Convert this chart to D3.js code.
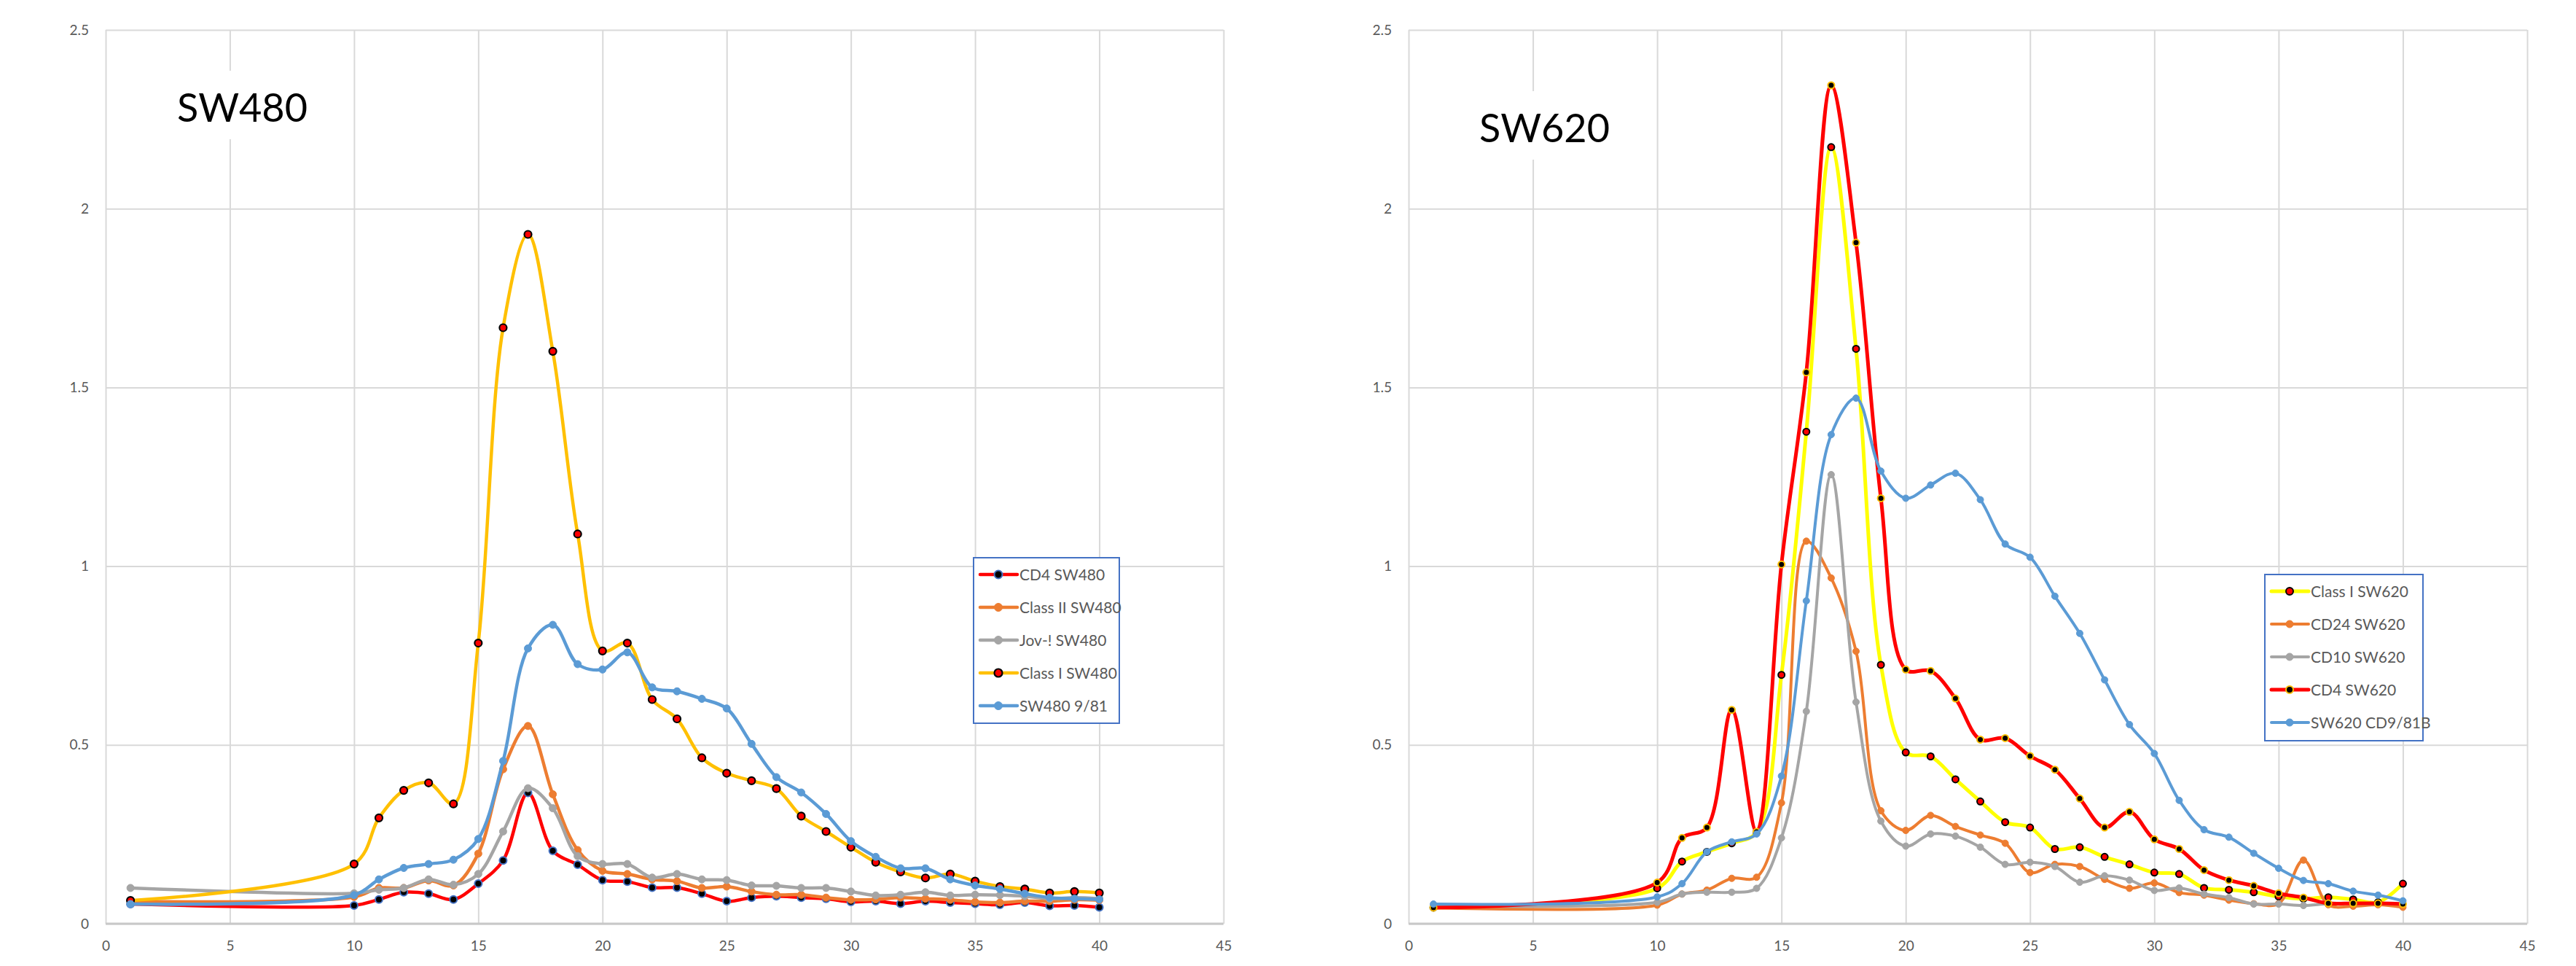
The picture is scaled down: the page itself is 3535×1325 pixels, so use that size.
<!DOCTYPE html>
<html>
<head>
<meta charset="utf-8">
<script src="https://cdn.jsdelivr.net/npm/d3@7"></script>
<style>
  body { margin: 0; background: #fff; }
  text { font-family: Lato, "Open Sans", sans-serif; }
</style>
</head>
<body>
<svg id="chart"></svg>
<script>
// fraction numbers (x) shared by every series
const fractions = [1, 10, 11, 12, 13, 14, 15, 16, 17, 18, 19, 20, 21, 22, 23, 24, 25,
  26, 27, 28, 29, 30, 31, 32, 33, 34, 35, 36, 37, 38, 39, 40];

const xTicks = [0, 5, 10, 15, 20, 25, 30, 35, 40, 45];
const yTicks = [0, 0.5, 1, 1.5, 2, 2.5];

// SW480 panel
const cd4SW480 = [0.055, 0.051, 0.068, 0.088, 0.084, 0.068, 0.112, 0.177, 0.366, 0.204, 0.165, 0.122, 0.118, 0.101, 0.101, 0.084, 0.063,
  0.073, 0.077, 0.073, 0.070, 0.061, 0.063, 0.056, 0.063, 0.059, 0.056, 0.053, 0.059, 0.050, 0.051, 0.046];
const classIISW480 = [0.062, 0.075, 0.100, 0.100, 0.121, 0.107, 0.196, 0.432, 0.553, 0.362, 0.206, 0.148, 0.139, 0.124, 0.119, 0.100, 0.104,
  0.090, 0.081, 0.081, 0.073, 0.067, 0.068, 0.073, 0.070, 0.067, 0.061, 0.059, 0.063, 0.063, 0.067, 0.066];
const jovSW480 = [0.100, 0.085, 0.095, 0.100, 0.124, 0.109, 0.139, 0.258, 0.379, 0.323, 0.189, 0.167, 0.167, 0.129, 0.139, 0.124, 0.122,
  0.107, 0.106, 0.100, 0.100, 0.090, 0.079, 0.081, 0.088, 0.079, 0.081, 0.080, 0.077, 0.070, 0.073, 0.070];
const classISW480 = [0.065, 0.167, 0.296, 0.373, 0.394, 0.335, 0.785, 1.667, 1.928, 1.601, 1.090, 0.763, 0.785, 0.627, 0.573, 0.464, 0.421,
  0.400, 0.378, 0.301, 0.258, 0.214, 0.172, 0.145, 0.128, 0.139, 0.119, 0.104, 0.097, 0.086, 0.090, 0.086];
const sw480_981 = [0.055, 0.080, 0.124, 0.156, 0.167, 0.179, 0.237, 0.455, 0.770, 0.836, 0.726, 0.711, 0.759, 0.661, 0.650, 0.629, 0.602,
  0.503, 0.410, 0.367, 0.307, 0.231, 0.187, 0.155, 0.155, 0.124, 0.107, 0.097, 0.084, 0.073, 0.070, 0.068];

// SW620 panel
const classISW620 = [0.045, 0.099, 0.174, 0.201, 0.225, 0.256, 0.696, 1.376, 2.172, 1.608, 0.724, 0.479, 0.468, 0.404, 0.342, 0.284, 0.269,
  0.209, 0.214, 0.187, 0.166, 0.143, 0.139, 0.100, 0.095, 0.088, 0.076, 0.070, 0.074, 0.068, 0.060, 0.112];
const cd24SW620 = [0.045, 0.052, 0.083, 0.094, 0.127, 0.130, 0.338, 1.070, 0.967, 0.762, 0.316, 0.261, 0.303, 0.272, 0.248, 0.225, 0.143,
  0.166, 0.160, 0.124, 0.099, 0.114, 0.087, 0.080, 0.066, 0.056, 0.056, 0.178, 0.053, 0.049, 0.053, 0.046];
const cd10SW620 = [0.050, 0.060, 0.083, 0.088, 0.088, 0.099, 0.240, 0.594, 1.256, 0.620, 0.287, 0.217, 0.251, 0.245, 0.214, 0.166, 0.172,
  0.160, 0.116, 0.134, 0.122, 0.093, 0.100, 0.083, 0.073, 0.055, 0.055, 0.051, 0.056, 0.057, 0.056, 0.055];
const cd4SW620 = [0.045, 0.115, 0.240, 0.269, 0.598, 0.257, 1.005, 1.542, 2.345, 1.905, 1.190, 0.711, 0.707, 0.630, 0.515, 0.519, 0.469,
  0.431, 0.350, 0.269, 0.313, 0.236, 0.209, 0.150, 0.122, 0.106, 0.085, 0.073, 0.057, 0.057, 0.057, 0.055];
const sw620_981B = [0.055, 0.075, 0.112, 0.201, 0.229, 0.251, 0.413, 0.903, 1.368, 1.470, 1.266, 1.190, 1.227, 1.260, 1.186, 1.062, 1.025,
  0.916, 0.812, 0.682, 0.557, 0.476, 0.345, 0.263, 0.242, 0.197, 0.155, 0.121, 0.112, 0.091, 0.080, 0.064];

const W = 3535, H = 1325;
const svg = d3.select('#chart').attr('width', W).attr('height', H);
svg.append('rect').attr('width', W).attr('height', H).attr('fill', '#fff');

const panels = [
  {
    title: 'SW480', left: 145, right: 1679, titleX: 243, titleY: 167,
    legend: { x: 1336, y: 765, w: 200, h: 227 },
    series: [
      { name: 'CD4 SW480', values: cd4SW480, color: '#FF0000', width: 4.5, fill: '#000', stroke: '#4472C4', r: 5, sw: 2 },
      { name: 'Class II SW480', values: classIISW480, color: '#ED7D31', width: 4.5, fill: '#ED7D31', stroke: '#ED7D31', r: 5, sw: 1 },
      { name: 'Jov-! SW480', values: jovSW480, color: '#A5A5A5', width: 4.5, fill: '#A5A5A5', stroke: '#A5A5A5', r: 5, sw: 1 },
      { name: 'Class I SW480', values: classISW480, color: '#FFC000', width: 4.5, fill: '#FF0000', stroke: '#000', r: 5, sw: 2.2 },
      { name: 'SW480 9/81', values: sw480_981, color: '#5B9BD5', width: 4.5, fill: '#5B9BD5', stroke: '#5B9BD5', r: 5, sw: 1 }
    ]
  },
  {
    title: 'SW620', left: 1933, right: 3468, titleX: 2030, titleY: 195,
    legend: { x: 3108, y: 788, w: 217, h: 228 },
    series: [
      { name: 'Class I SW620', values: classISW620, color: '#FFFF00', width: 5, fill: '#FF0000', stroke: '#000', r: 4.5, sw: 2 },
      { name: 'CD24 SW620', values: cd24SW620, color: '#ED7D31', width: 4, fill: '#ED7D31', stroke: '#ED7D31', r: 4.5, sw: 1 },
      { name: 'CD10 SW620', values: cd10SW620, color: '#A5A5A5', width: 4, fill: '#A5A5A5', stroke: '#A5A5A5', r: 4.5, sw: 1 },
      { name: 'CD4 SW620', values: cd4SW620, color: '#FF0000', width: 5, fill: '#000', stroke: '#FFC000', r: 4.5, sw: 2 },
      { name: 'SW620 CD9/81B', values: sw620_981B, color: '#5B9BD5', width: 4, fill: '#5B9BD5', stroke: '#5B9BD5', r: 4.5, sw: 1 }
    ]
  }
];

function drawPanel(p) {
  const x = d3.scaleLinear().domain([0, 45]).range([p.left, p.right]);
  const y = d3.scaleLinear().domain([0, 2.5]).range([1267, 41]);
  const g = svg.append('g');

  // gridlines
  g.append('g')
    .attr('transform', `translate(0, ${y(0)})`)
    .call(d3.axisBottom(x).tickValues(xTicks).tickSize(-(y(0) - y(2.5))).tickFormat(''))
    .call(a => a.select('.domain').remove())
    .selectAll('line').attr('stroke', '#D9D9D9').attr('stroke-width', 2);
  g.append('g')
    .attr('transform', `translate(${x(0)}, 0)`)
    .call(d3.axisLeft(y).tickValues(yTicks).tickSize(-(x(45) - x(0))).tickFormat(''))
    .call(a => a.select('.domain').remove())
    .selectAll('line').attr('stroke', '#D9D9D9').attr('stroke-width', 2);

  // x axis line
  g.append('line')
    .attr('x1', x(0)).attr('x2', x(45)).attr('y1', y(0)).attr('y2', y(0))
    .attr('stroke', '#C8C8C8').attr('stroke-width', 3);

  // tick labels
  g.append('g')
    .attr('transform', `translate(0, ${y(0)})`)
    .call(d3.axisBottom(x).tickValues(xTicks).tickSize(0).tickPadding(24))
    .call(a => a.select('.domain').remove())
    .selectAll('text').attr('font-size', 19).attr('fill', '#595959').attr('font-family', 'Lato');
  g.append('g')
    .attr('transform', `translate(${x(0)}, 0)`)
    .call(d3.axisLeft(y).tickValues(yTicks).tickSize(0).tickPadding(23).tickFormat(d3.format('')))
    .call(a => a.select('.domain').remove())
    .selectAll('text').attr('font-size', 19).attr('fill', '#595959').attr('font-family', 'Lato');

  // title with white box
  g.append('rect')
    .attr('x', p.titleX - 40).attr('y', p.titleY - 70)
    .attr('width', 245).attr('height', 94).attr('fill', '#fff');
  g.append('text')
    .attr('x', p.titleX).attr('y', p.titleY)
    .attr('font-size', 54).attr('fill', '#000')
    .text(p.title);

  // series
  const line = d3.line()
    .x((d, i) => x(fractions[i]))
    .y(d => y(d))
    .curve(d3.curveCatmullRom.alpha(0.5));

  p.series.forEach(s => {
    g.append('path')
      .datum(s.values)
      .attr('d', line)
      .attr('fill', 'none')
      .attr('stroke', s.color)
      .attr('stroke-width', s.width)
      .attr('stroke-linejoin', 'round');
    g.append('g')
      .selectAll('circle')
      .data(s.values)
      .enter()
      .append('circle')
      .attr('cx', (d, i) => x(fractions[i]))
      .attr('cy', d => y(d))
      .attr('r', s.r)
      .attr('fill', s.fill)
      .attr('stroke', s.stroke)
      .attr('stroke-width', s.sw);
  });

  // legend
  const L = p.legend;
  const lg = g.append('g');
  lg.append('rect')
    .attr('x', L.x).attr('y', L.y).attr('width', L.w).attr('height', L.h)
    .attr('fill', '#fff').attr('stroke', '#4472C4').attr('stroke-width', 2);
  p.series.forEach((s, i) => {
    const cy = L.y + 23 + i * 45;
    lg.append('line')
      .attr('x1', L.x + 9).attr('x2', L.x + 60).attr('y1', cy).attr('y2', cy)
      .attr('stroke', s.color).attr('stroke-width', s.width).attr('stroke-linecap', 'round');
    lg.append('circle')
      .attr('cx', L.x + 34).attr('cy', cy).attr('r', s.r + 0.5)
      .attr('fill', s.fill).attr('stroke', s.stroke).attr('stroke-width', s.sw);
    lg.append('text')
      .attr('x', L.x + 63).attr('y', cy).attr('dy', '0.36em')
      .attr('font-size', 21).attr('fill', '#595959')
      .text(s.name);
  });
}

panels.forEach(drawPanel);
</script>
</body>
</html>
